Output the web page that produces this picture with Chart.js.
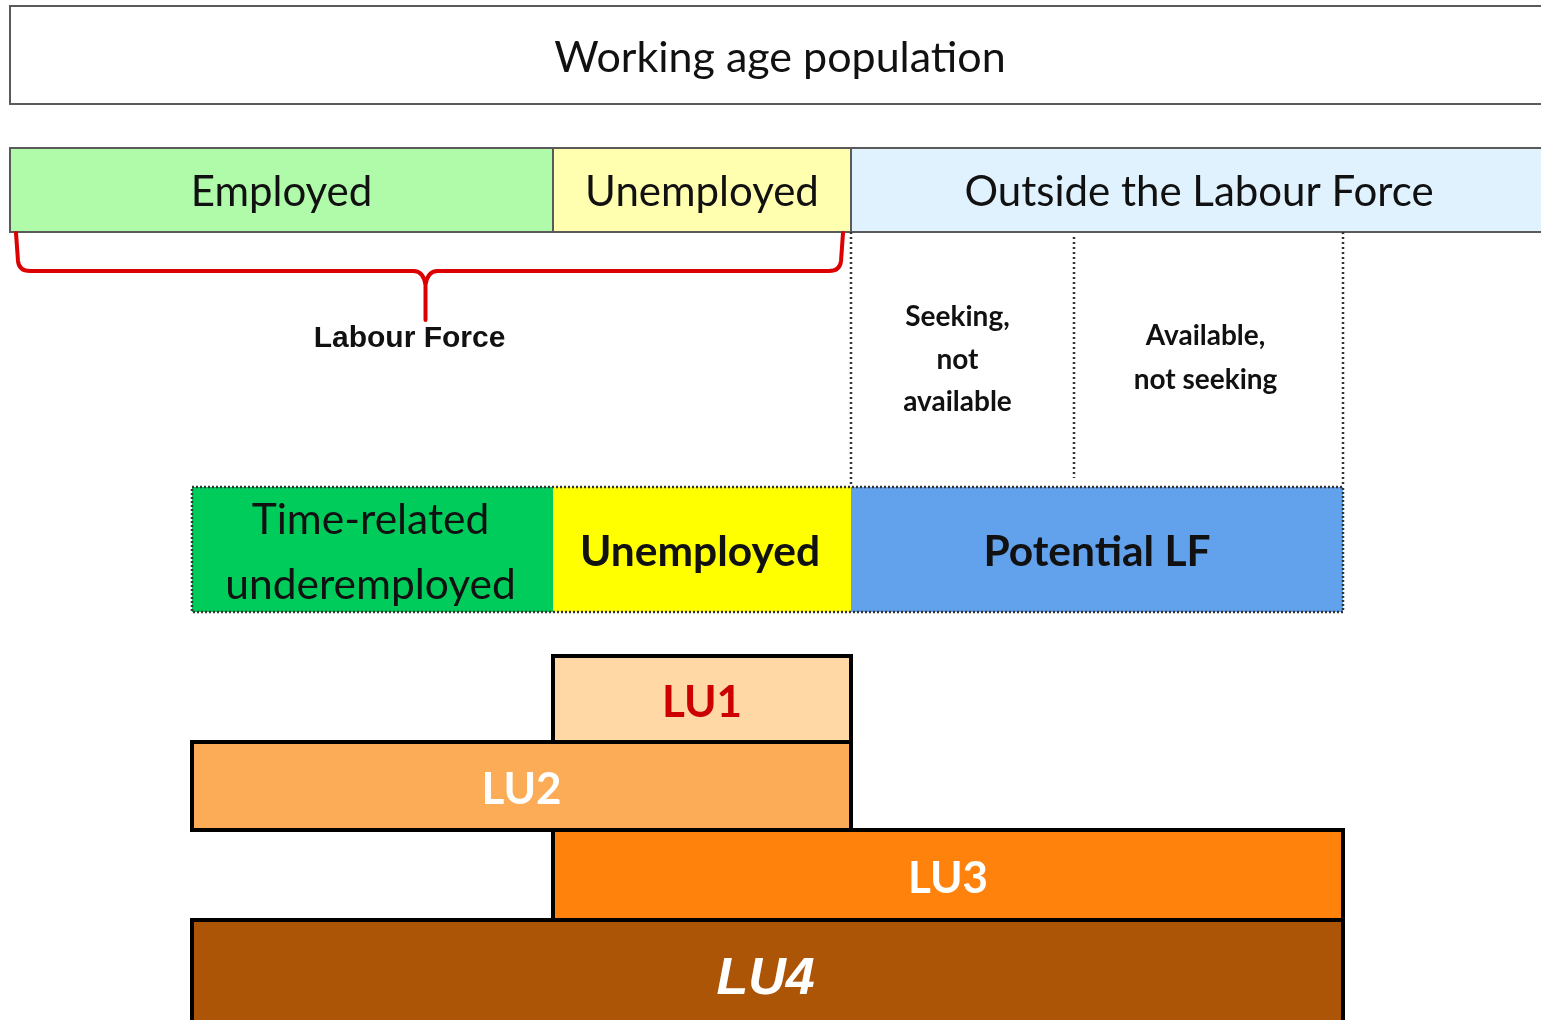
<!DOCTYPE html>
<html><head><meta charset="utf-8">
<script src="https://cdn.jsdelivr.net/npm/chart.js@4"></script>
<style>html,body{margin:0;padding:0;background:#fff}#wrap{width:1541px;height:1020px;position:relative}</style>
</head><body><div id="wrap"><canvas id="c"></canvas></div>
<script>
// ---------- data (diagram units along the horizontal axis) ----------
const populationLabel = 'Working age population';
const populationSpan = [10, 1560];
const statusLabels = ['Employed', 'Unemployed', 'Outside the Labour Force'];
const statusEdges = [10, 553, 851, 1560];
const labourForceLabel = 'Labour Force';
const labourForceStatuses = [0, 1];           // Employed + Unemployed
const outsideSubLabels = [['Seeking,', 'not', 'available'], ['Available,', 'not seeking']];
const outsideSubEdges = [851, 1074, 1343];
const componentLabels = [['Time-related', 'underemployed'], ['Unemployed'], ['Potential LF']];
const componentEdges = [192, 553, 851, 1343];
const luLabels = ['LU1', 'LU2', 'LU3', 'LU4'];
const luComponents = [[1, 1], [0, 1], [1, 2], [0, 2]]; // first..last component covered

// ---------- layout bands (vertical axis units) ----------
const bands = {
  population: [6, 104],
  status: [148, 232],
  sub: [232, 487],
  components: [487, 612],
  lu: [[656, 742], [742, 830], [830, 920], [920, 1040]]
};

// ---------- styles ----------
const statusFills = ['#AFFBAA', '#FFFFAF', '#DFF2FE'];
const componentFills = ['#00CC5C', '#FFFF00', '#62A1EC'];
const luFills = ['#FFD8A5', '#FCAC57', '#FE820C', '#AD5507'];
const luTextColors = ['#CC0000', '#FFFFFF', '#FFFFFF', '#FFFFFF'];
const F = '"Lato", "Open Sans", sans-serif';

const diagram = {
  id: 'diagram',
  afterDraw(chart) {
    const ctx = chart.ctx, xs = chart.scales.x, ys = chart.scales.y;
    const X = v => xs.getPixelForValue(v), Y = v => ys.getPixelForValue(v);
    const text = (t, cx, cy, font, color) => {
      ctx.font = font; ctx.fillStyle = color || '#111';
      ctx.textAlign = 'center'; ctx.textBaseline = 'middle';
      ctx.fillText(t, cx, cy);
    };
    ctx.save();

    // Working age population
    ctx.fillStyle = '#fff';
    ctx.fillRect(X(populationSpan[0]), Y(bands.population[0]), X(populationSpan[1]) - X(populationSpan[0]), Y(bands.population[1]) - Y(bands.population[0]));
    ctx.strokeStyle = '#5a5a5a'; ctx.lineWidth = 2; ctx.setLineDash([]);
    ctx.strokeRect(X(populationSpan[0]), Y(bands.population[0]), X(populationSpan[1]) - X(populationSpan[0]), Y(bands.population[1]) - Y(bands.population[0]));
    text(populationLabel, 780, (Y(bands.population[0]) + Y(bands.population[1])) / 2 + 3, '43px ' + F);

    // Status row
    statusLabels.forEach((lab, i) => {
      const x0 = X(statusEdges[i]), x1 = X(statusEdges[i + 1]);
      const y0 = Y(bands.status[0]), y1 = Y(bands.status[1]);
      ctx.fillStyle = statusFills[i]; ctx.fillRect(x0, y0, x1 - x0, y1 - y0);
      ctx.strokeStyle = '#5a5a5a'; ctx.lineWidth = 2; ctx.strokeRect(x0, y0, x1 - x0, y1 - y0);
      const cx = i === 2 ? (x0 + 1541) / 2 + 3 : (x0 + x1) / 2;
      text(lab, cx, (y0 + y1) / 2 + 2, '42px ' + F);
    });

    // Labour force brace
    const xL = X(statusEdges[labourForceStatuses[0]]) + 6;
    const xR = X(statusEdges[labourForceStatuses[1] + 1]) - 8;
    const xM = (xL + xR) / 2 - 4;
    const yT = Y(bands.status[1]), yH = yT + 39, yTip = yT + 88;
    ctx.strokeStyle = '#DD0000'; ctx.lineWidth = 4; ctx.lineJoin = 'round'; ctx.lineCap = 'round';
    ctx.beginPath();
    ctx.moveTo(xL, yT + 1); ctx.lineTo(xL + 2, yH - 10);
    ctx.quadraticCurveTo(xL + 3, yH, xL + 14, yH);
    ctx.lineTo(xM - 12, yH); ctx.quadraticCurveTo(xM - 2, yH, xM, yH + 14);
    ctx.lineTo(xM, yTip);
    ctx.moveTo(xM, yH + 14); ctx.quadraticCurveTo(xM + 2, yH, xM + 12, yH);
    ctx.lineTo(xR - 14, yH); ctx.quadraticCurveTo(xR - 3, yH, xR - 2, yH - 10);
    ctx.lineTo(xR, yT + 1);
    ctx.stroke();
    ctx.lineCap = 'butt'; ctx.lineJoin = 'miter';
    text(labourForceLabel, xM - 16, yTip + 19, 'bold 30px "Liberation Sans", Arial, sans-serif', '#111');

    // Dotted columns outside the labour force
    ctx.strokeStyle = '#333'; ctx.lineWidth = 2.5; ctx.setLineDash([2, 3]);
    outsideSubEdges.forEach((e, i) => {
      ctx.beginPath();
      const top = i === 1 ? Y(bands.sub[0]) + 5 : Y(bands.sub[0]);
      const bot = i === 1 ? Y(bands.sub[1]) - 9 : Y(bands.sub[1]);
      ctx.moveTo(X(e), top); ctx.lineTo(X(e), bot); ctx.stroke();
    });
    ctx.setLineDash([]);
    outsideSubLabels.forEach((lines, i) => {
      const cx = (X(outsideSubEdges[i]) + X(outsideSubEdges[i + 1])) / 2 + (i === 0 ? -5 : -3);
      const cy = (Y(bands.sub[0]) + Y(bands.sub[1])) / 2 - (i === 0 ? 0 : 2);
      const gap = i === 0 ? 42.5 : 44;
      lines.forEach((ln, j) => text(ln, cx, cy + (j - (lines.length - 1) / 2) * gap, 'bold 28px ' + F));
    });

    // Components row
    componentLabels.forEach((lines, i) => {
      const x0 = X(componentEdges[i]), x1 = X(componentEdges[i + 1]);
      const y0 = Y(bands.components[0]), y1 = Y(bands.components[1]);
      ctx.fillStyle = componentFills[i]; ctx.fillRect(x0, y0, x1 - x0, y1 - y0);
      const cy = (y0 + y1) / 2;
      const font = (i === 0 ? '' : 'bold ') + '42.5px ' + F;
      lines.forEach((ln, j) => text(ln, (x0 + x1) / 2 + (i === 2 ? 0 : -2), cy + 3 + (j - (lines.length - 1) / 2) * 65, font));
    });
    ctx.strokeStyle = '#333'; ctx.lineWidth = 2.5; ctx.setLineDash([2, 2]);
    ctx.strokeRect(X(componentEdges[0]), Y(bands.components[0]), X(componentEdges[3]) - X(componentEdges[0]), Y(bands.components[1]) - Y(bands.components[0]));
    ctx.setLineDash([]);

    // LU boxes
    const luRect = i => {
      const x0 = X(componentEdges[luComponents[i][0]]), x1 = X(componentEdges[luComponents[i][1] + 1]);
      const y0 = Y(bands.lu[i][0]), y1 = Y(bands.lu[i][1]);
      return [x0, y0, x1 - x0, y1 - y0];
    };
    luLabels.forEach((l, i) => { ctx.fillStyle = luFills[i]; ctx.fillRect(...luRect(i)); });
    ctx.strokeStyle = '#000'; ctx.lineWidth = 4;
    luLabels.forEach((l, i) => { ctx.strokeRect(...luRect(i)); });
    luLabels.forEach((l, i) => {
      const r = luRect(i);
      const cx = r[0] + r[2] / 2;
      const cy = i === 3 ? Y(bands.lu[i][0]) + 60 : r[1] + r[3] / 2 + 4;
      const font = i === 3 ? 'italic bold 52px "Liberation Sans", Arial, sans-serif' : 'bold 44px ' + F;
      text(l, cx - (i === 3 ? 2 : 0), cy, font, luTextColors[i]);
    });
    ctx.restore();
  }
};

new Chart(document.getElementById('c'), {
  type: 'scatter',
  data: { datasets: [] },
  options: {
    responsive: true, maintainAspectRatio: false, animation: false,
    layout: { padding: 0 },
    plugins: { legend: { display: false }, tooltip: { enabled: false } },
    scales: {
      x: { type: 'linear', min: 0, max: 1541, display: false },
      y: { type: 'linear', min: 0, max: 1020, reverse: true, display: false }
    }
  },
  plugins: [diagram]
});
</script></body></html>
